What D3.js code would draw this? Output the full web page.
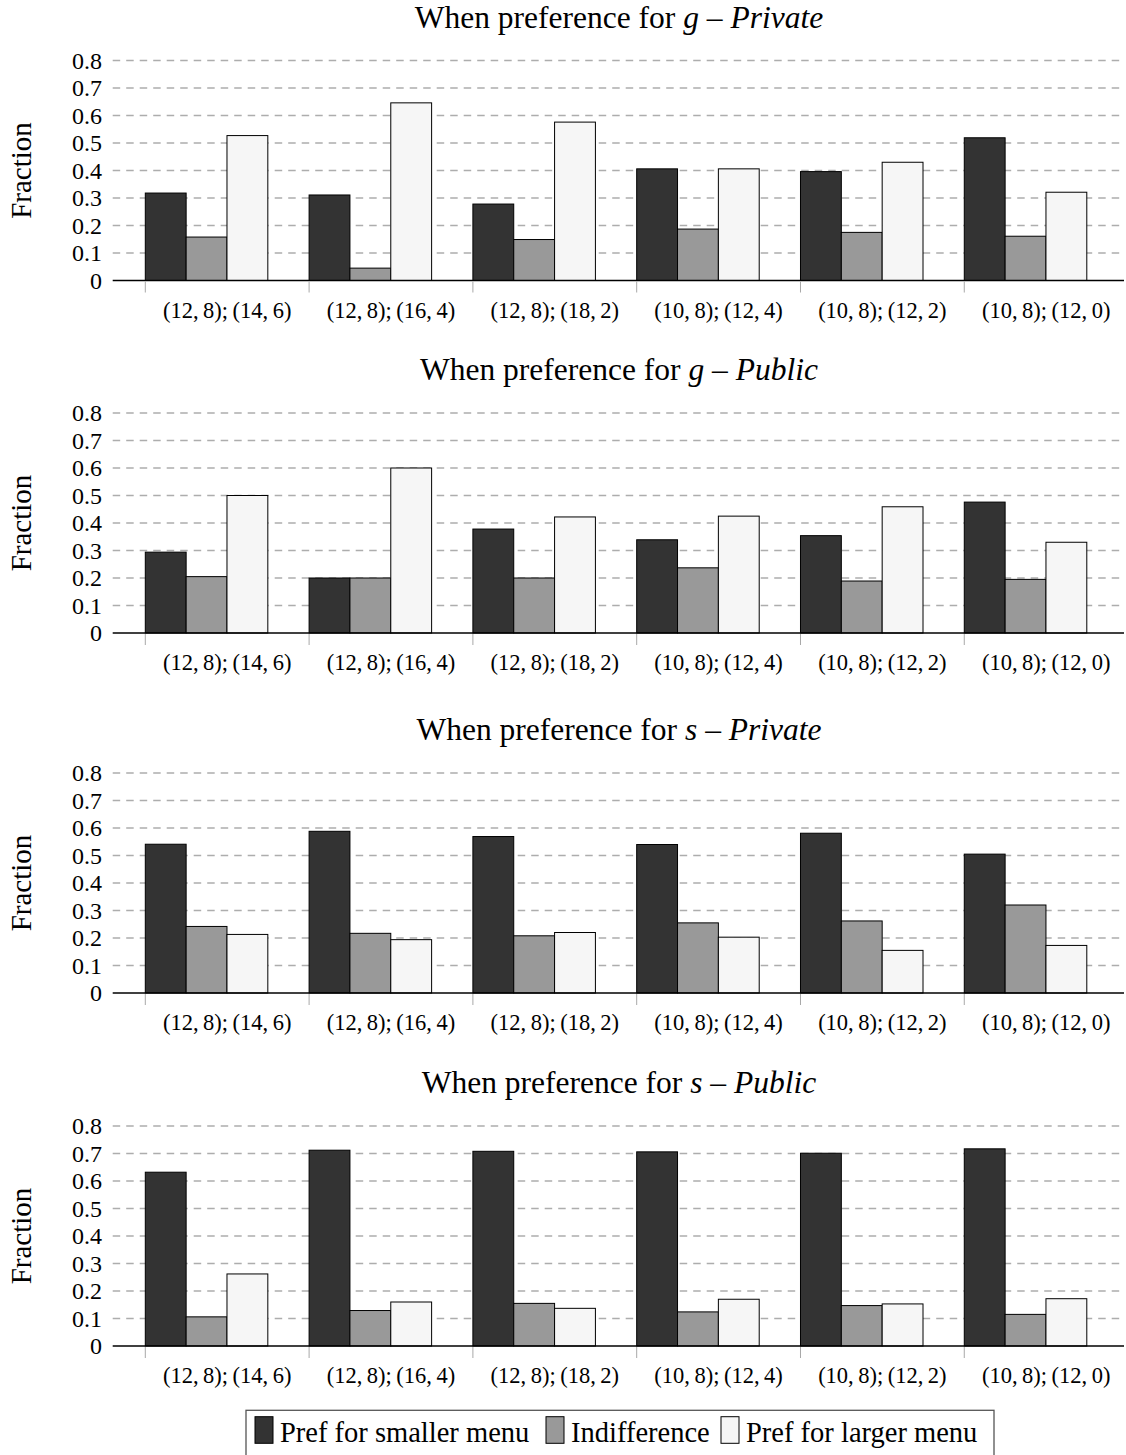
<!DOCTYPE html>
<html>
<head>
<meta charset="utf-8">
<script src="https://cdn.jsdelivr.net/npm/d3@7"></script>
<style>
  html, body { margin: 0; padding: 0; background: #ffffff; }
  svg { display: block; }
  text { font-family: "Liberation Serif", "Times New Roman", serif; fill: #000; }
</style>
</head>
<body>
<svg id="chart" width="1126" height="1455"></svg>
<script>
// ---------------- DATA ----------------
const categories = [
  "(12,\u20098);\u2009(14,\u20096)",
  "(12,\u20098);\u2009(16,\u20094)",
  "(12,\u20098);\u2009(18,\u20092)",
  "(10,\u20098);\u2009(12,\u20094)",
  "(10,\u20098);\u2009(12,\u20092)",
  "(10,\u20098);\u2009(12,\u20090)"
];
const seriesNames = ["Pref for smaller menu", "Indifference", "Pref for larger menu"];
const yTicks = [0, 0.1, 0.2, 0.3, 0.4, 0.5, 0.6, 0.7, 0.8];
const yTickLabels = ["0", "0.1", "0.2", "0.3", "0.4", "0.5", "0.6", "0.7", "0.8"];

const titleVars  = ["g", "g", "s", "s"];
const titleKinds = ["Private", "Public", "Private", "Public"];

// g – Private
const gPrivateSmaller = [0.318, 0.311, 0.278, 0.406, 0.396, 0.519];
const gPrivateIndiff  = [0.158, 0.045, 0.149, 0.187, 0.175, 0.161];
const gPrivateLarger  = [0.527, 0.646, 0.576, 0.406, 0.430, 0.321];
// g – Public
const gPublicSmaller  = [0.294, 0.200, 0.378, 0.339, 0.354, 0.476];
const gPublicIndiff   = [0.205, 0.200, 0.200, 0.237, 0.189, 0.195];
const gPublicLarger   = [0.500, 0.600, 0.422, 0.425, 0.459, 0.330];
// s – Private
const sPrivateSmaller = [0.541, 0.588, 0.569, 0.540, 0.581, 0.505];
const sPrivateIndiff  = [0.242, 0.217, 0.208, 0.255, 0.262, 0.320];
const sPrivateLarger  = [0.213, 0.194, 0.220, 0.203, 0.155, 0.173];
// s – Public
const sPublicSmaller  = [0.632, 0.712, 0.708, 0.706, 0.701, 0.717];
const sPublicIndiff   = [0.106, 0.129, 0.155, 0.124, 0.147, 0.115];
const sPublicLarger   = [0.262, 0.160, 0.137, 0.170, 0.153, 0.172];

const panelSeries = [
  [gPrivateSmaller, gPrivateIndiff, gPrivateLarger],
  [gPublicSmaller,  gPublicIndiff,  gPublicLarger],
  [sPrivateSmaller, sPrivateIndiff, sPrivateLarger],
  [sPublicSmaller,  sPublicIndiff,  sPublicLarger]
];

// ---------------- STYLE / LAYOUT ----------------
const colors = ["#333333", "#999999", "#f6f6f6"];
const axisLeft = 112.7, axisRight = 1124;
const panelZero = [280.5, 633, 993, 1346];
const plotHeight = 220;

const svg = d3.select("#chart");

const x0 = d3.scaleBand()
  .domain(categories)
  .range([145.3, 1086.8])
  .paddingInner(0.252)
  .paddingOuter(0);
const x1 = d3.scaleBand()
  .domain(d3.range(seriesNames.length))
  .range([0, x0.bandwidth()])
  .padding(0);

panelSeries.forEach((series, p) => {
  const zero = panelZero[p];
  const y = d3.scaleLinear().domain([0, 0.8]).range([zero, zero - plotHeight]);
  const g = svg.append("g");

  // title
  const title = g.append("text")
    .attr("x", 619)
    .attr("y", y(0.8) - 33)
    .attr("text-anchor", "middle")
    .style("font-size", "31.5px");
  title.append("tspan").text("When preference for ");
  title.append("tspan").style("font-style", "italic").text(titleVars[p]);
  title.append("tspan").text(" \u2013 ");
  title.append("tspan").style("font-style", "italic").text(titleKinds[p]);

  // y label
  g.append("text")
    .attr("transform", `translate(31,${y(0.4)}) rotate(-90)`)
    .attr("text-anchor", "middle")
    .style("font-size", "29px")
    .text("Fraction");

  // gridlines
  g.selectAll("line.grid")
    .data(yTicks.filter(t => t > 0))
    .enter().append("line")
    .attr("class", "grid")
    .attr("x1", axisLeft).attr("x2", axisRight)
    .attr("y1", d => y(d)).attr("y2", d => y(d))
    .attr("stroke", "#adadad")
    .attr("stroke-width", 1.5)
    .attr("stroke-dasharray", "7.5,6");

  // y tick labels
  g.selectAll("text.ytick")
    .data(yTicks)
    .enter().append("text")
    .attr("class", "ytick")
    .attr("x", 102)
    .attr("y", d => y(d))
    .attr("dy", "0.34em")
    .attr("text-anchor", "end")
    .style("font-size", "24px")
    .text((d, i) => yTickLabels[i]);

  // bars
  const groups = g.selectAll("g.grp")
    .data(categories)
    .enter().append("g")
    .attr("class", "grp")
    .attr("transform", d => `translate(${x0(d)},0)`);

  groups.selectAll("rect")
    .data((d, ci) => series.map((s, si) => ({ si, v: s[ci] })))
    .enter().append("rect")
    .attr("x", d => x1(d.si))
    .attr("width", x1.bandwidth())
    .attr("y", d => y(d.v))
    .attr("height", d => y(0) - y(d.v))
    .attr("fill", d => colors[d.si])
    .attr("stroke", "#000")
    .attr("stroke-width", 1);

  // x axis line
  g.append("line")
    .attr("x1", axisLeft).attr("x2", axisRight)
    .attr("y1", zero).attr("y2", zero)
    .attr("stroke", "#000")
    .attr("stroke-width", 1.3);

  // x ticks at group starts
  g.selectAll("line.xtick")
    .data(categories)
    .enter().append("line")
    .attr("class", "xtick")
    .attr("x1", d => x0(d)).attr("x2", d => x0(d))
    .attr("y1", zero + 1).attr("y2", zero + 12)
    .attr("stroke", "#a8a8a8")
    .attr("stroke-width", 1);

  // category labels centred between ticks
  g.selectAll("text.xlab")
    .data(categories)
    .enter().append("text")
    .attr("class", "xlab")
    .attr("x", d => x0(d) + x0.step() / 2)
    .attr("y", zero + 37)
    .attr("text-anchor", "middle")
    .style("font-size", "22.5px")
    .text(d => d);
});

// ---------------- LEGEND ----------------
const legend = svg.append("g");
legend.append("rect")
  .attr("x", 246).attr("y", 1410.3)
  .attr("width", 748).attr("height", 60)
  .attr("fill", "#fff")
  .attr("stroke", "#555")
  .attr("stroke-width", 1.3);

const legendX = [255, 546, 721];
seriesNames.forEach((name, i) => {
  legend.append("rect")
    .attr("x", legendX[i]).attr("y", 1416.7)
    .attr("width", 18).attr("height", 26.6)
    .attr("fill", colors[i])
    .attr("stroke", "#000")
    .attr("stroke-width", 1);
  legend.append("text")
    .attr("x", legendX[i] + 25)
    .attr("y", 1441.5)
    .style("font-size", "28.5px")
    .text(name);
});
</script>
</body>
</html>
